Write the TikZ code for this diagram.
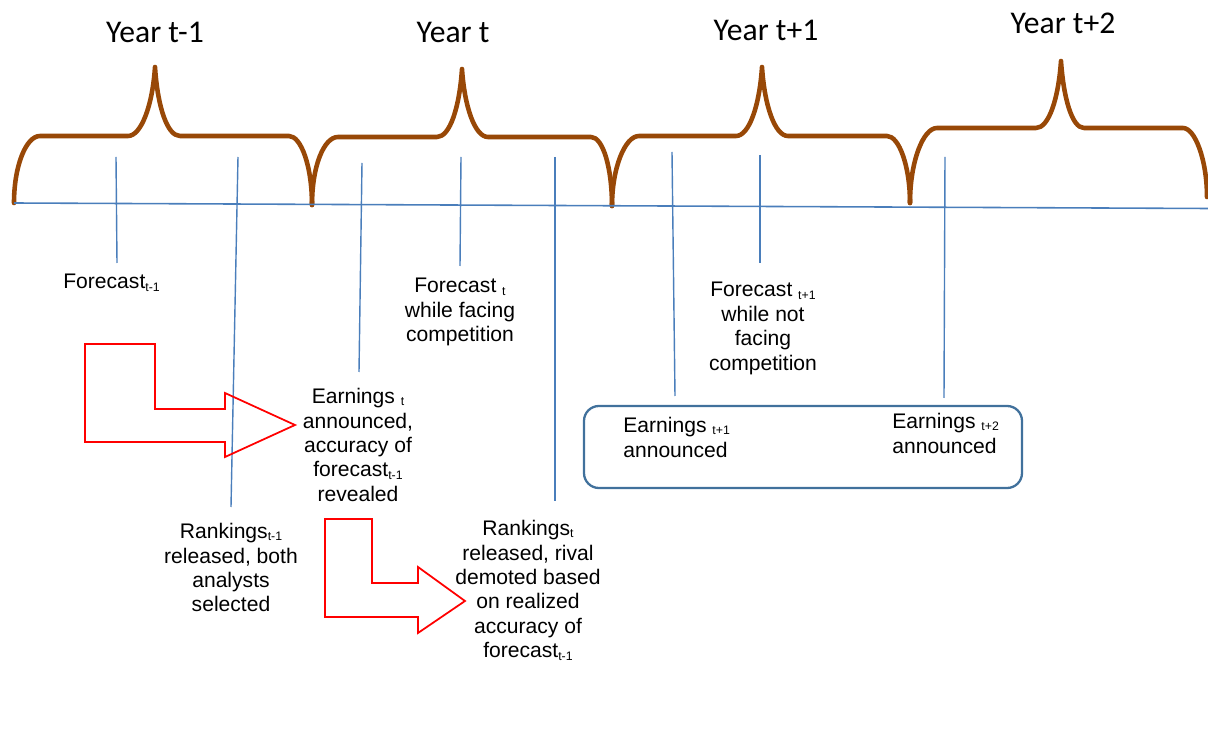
\documentclass[tikz,border=0pt]{standalone}
\usepackage{fontspec}
\setmainfont{Liberation Sans}
\newfontfamily\carlito{Carlito}
\definecolor{bracebrown}{RGB}{152,72,7}
\definecolor{tickblue}{RGB}{74,126,187}
\definecolor{boxblue}{RGB}{65,113,156}
\newcommand\sbs[1]{\raisebox{-1.3pt}{\fontsize{7}{8}\selectfont #1}}
\tikzset{
  lbl/.style={font=\fontsize{12}{13.9}\selectfont, inner sep=0pt, align=center},
  yr/.style={font=\carlito\fontsize{18}{20}\selectfont, inner sep=0pt, anchor=base},
  tick/.style={draw=tickblue, line width=0.8pt},
  timeline/.style={draw=tickblue, line width=0.9pt},
  yearbrace/.style={draw=bracebrown, line width=2.6pt, line cap=round, line join=round},
  bentarrow/.style={draw=red, line width=1pt},
  ebox/.style={draw=boxblue, line width=1.3pt, rounded corners=8.5pt},
}
\begin{document}
\begin{tikzpicture}[x=0.02cm, y=-0.02cm]
\useasboundingbox (0,0) rectangle (1208,729);

% year labels
\node[yr] (y1) at (155,43) {Year t-1};
\node[yr] (y2) at (453,43) {Year t};
\node[yr] (y3) at (766,41) {Year t+1};
\node[yr] (y4) at (1063,34) {Year t+2};

% braces
\draw[yearbrace] (14,203) .. controls (14,166) and (26,136) .. (40,136) -- (128,136)
  .. controls (141,136) and (152.5,106) .. (155,67)
  .. controls (157.5,106) and (167,136) .. (180,136) -- (289,136)
  .. controls (301,136) and (312,166) .. (312,205);
\draw[yearbrace] (312,205) .. controls (312,166) and (324,137) .. (338,137) -- (437,137)
  .. controls (450,137) and (459.5,107) .. (462,69)
  .. controls (464.5,107) and (475,137) .. (488,137) -- (591,137)
  .. controls (603,137) and (612,168) .. (612,206);
\draw[yearbrace] (612,206) .. controls (612,168) and (625,136) .. (639,136) -- (736,136)
  .. controls (749,136) and (759.5,106) .. (762,67)
  .. controls (764.5,106) and (775,136) .. (788,136) -- (887,136)
  .. controls (899,136) and (910,166) .. (910,203);
\draw[yearbrace] (910,203) .. controls (910,162) and (923,128) .. (937,128) -- (1036,128)
  .. controls (1049,128) and (1058.5,98) .. (1061,61)
  .. controls (1063.5,98) and (1072,128) .. (1084,128) -- (1183,128)
  .. controls (1195,128) and (1207,160) .. (1207,197);

% timeline
\coordinate (tl0) at (14,203);
\coordinate (tl1) at (1208,208.5);
\draw[timeline] (tl0) -- (tl1);

% ticks
\draw[tick] (116,157) -- (117,263);
\draw[tick] (238,157) -- (231,507);
\draw[tick] (362,163) -- (359,372);
\draw[tick] (461,157) -- (460,266);
\draw[tick] (555,157) -- (555,501);
\draw[tick] (672,152) -- (675,396);
\draw[tick] (760,155) -- (760,263);
\draw[tick] (945,157) -- (944,398);

% labels
\node[lbl, anchor=base west] (f1) at (63,289) {Forecast\sbs{t-1}};
\node[lbl, anchor=north] (e0) at (358,388) {Earnings \sbs{t}\\announced,\\accuracy of\\forecast\sbs{t-1}\\revealed};
\node[lbl, anchor=north] (r1) at (231,523) {Rankings\sbs{t-1}\\released, both\\analysts\\selected};
\node[lbl, anchor=north] (f0) at (460,278) {Forecast \sbs{t}\\while facing\\competition};
\node[lbl, anchor=north] (r0) at (528,520) {Rankings\sbs{t}\\released, rival\\demoted based\\on realized\\accuracy of\\forecast\sbs{t-1}};
\node[lbl, anchor=north] (fp1) at (763,282) {Forecast \sbs{t+1}\\while not\\facing\\competition};

% earnings box
\draw[ebox] (584,406) rectangle (1022,488);
\node[lbl, anchor=north west, align=left] (ep1) at (623,417) {Earnings \sbs{t+1}\\announced};
\node[lbl, anchor=north west, align=left] (ep2) at (892,413) {Earnings \sbs{t+2}\\announced};

% bent arrows
\draw[bentarrow] (85,344) -- (155,344) -- (155,409) -- (225,409) -- (225,393) -- (295,425)
  -- (225,457) -- (225,442) -- (85,442) -- cycle;
\draw[bentarrow] (325,519) -- (372,519) -- (372,583) -- (418,583) -- (418,567) -- (465,601)
  -- (418,633) -- (418,617) -- (325,617) -- cycle;
\end{tikzpicture}
\end{document}
